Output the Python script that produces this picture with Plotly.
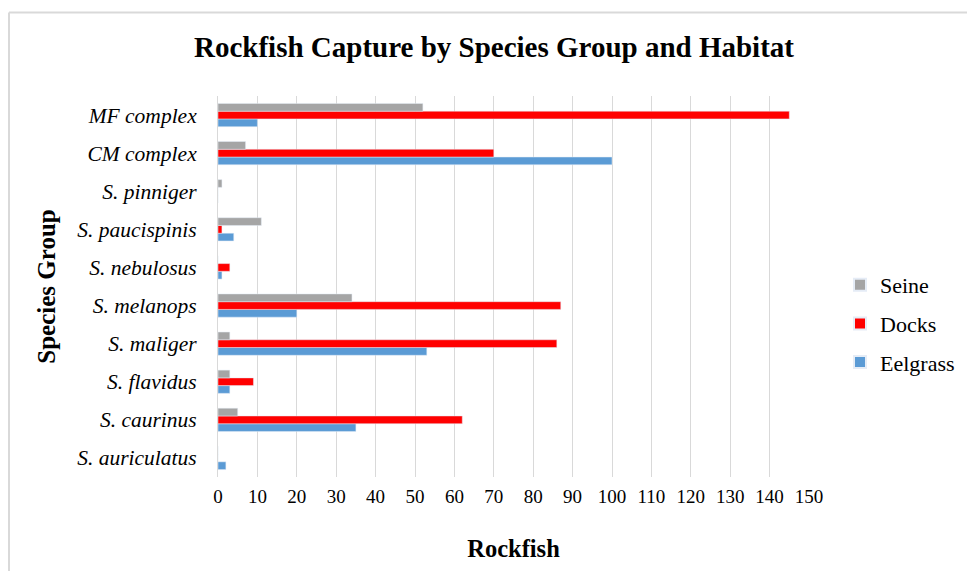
import plotly.graph_objects as go

# Species groups, listed bottom to top as drawn on the category axis
species = [
    "S. auriculatus", "S. caurinus", "S. flavidus", "S. maliger", "S. melanops",
    "S. nebulosus", "S. paucispinis", "S. pinniger", "CM complex", "MF complex",
]

# Rockfish counts per habitat, in the same order as `species`
seine = [0, 5, 3, 3, 34, 0, 11, 1, 7, 52]
docks = [0, 62, 9, 86, 87, 3, 1, 0, 70, 145]
eelgrass = [2, 35, 3, 53, 20, 1, 4, 0, 100, 10]

x_ticks = list(range(0, 151, 10))

SERIF = "Liberation Serif, Times New Roman, serif"

fig = go.Figure()
# Plotly stacks grouped horizontal bars bottom-up, so Eelgrass goes first;
# legendrank puts Seine at the top of the legend
fig.add_trace(go.Bar(name="Eelgrass", y=species, x=eelgrass, orientation="h",
                     legendgroup="eelgrass", legendrank=3,
                     marker=dict(color="#5B9BD5")))
fig.add_trace(go.Bar(name="Docks", y=species, x=docks, orientation="h",
                     legendgroup="docks", legendrank=2,
                     marker=dict(color="#FF0000")))
fig.add_trace(go.Bar(name="Seine", y=species, x=seine, orientation="h",
                     legendgroup="seine", legendrank=1,
                     marker=dict(color="#A5A5A5")))

W, H = 967, 571
L, R, T, B = 218, 158, 96, 94
pw, ph = W - L - R, H - T - B

def px_x(p):
    return (p - L) / pw

def px_y(p):
    return (H - B - p) / ph

fig.update_layout(
    width=W, height=H,
    margin=dict(l=L, r=R, t=T, b=B, autoexpand=False),
    paper_bgcolor="white", plot_bgcolor="white",
    barmode="group", bargap=0.39, bargroupgap=0,
    font=dict(family=SERIF, color="#000000"),
    title=dict(text="<b>Rockfish Capture by Species Group and Habitat</b>",
               font=dict(size=29, family=SERIF, color="#000000"),
               x=494 / W, xref="container", xanchor="center",
               y=1 - 47 / H, yref="container", yanchor="middle"),
    xaxis=dict(range=[0, 150], tickvals=x_ticks, ticktext=[str(v) for v in x_ticks],
               showgrid=True, gridcolor="#D9D9D9", gridwidth=1,
               zeroline=False, showline=False, ticks="",
               tickfont=dict(size=19, family=SERIF, color="#000000"),
               ticklabelstandoff=6,
               title=dict(text="<b>Rockfish</b>", standoff=33,
                          font=dict(size=24.5, family=SERIF, color="#000000"))),
    yaxis=dict(showgrid=False, zeroline=False, ticks="",
               showline=True, linecolor="#D9D9D9", linewidth=1,
               tickfont=dict(size=21.5, family=SERIF, color="#000000", style="italic"),
               ticklabelstandoff=16,
               title=dict(text="<b>Species Group</b>", standoff=14,
                          font=dict(size=25, family=SERIF, color="#000000"))),
    legend=dict(traceorder="grouped", x=px_x(840), y=px_y(264),
                xanchor="left", yanchor="top", tracegroupgap=7,
                itemsizing="constant", itemwidth=30,
                font=dict(size=22, family=SERIF, color="#000000"),
                bgcolor="rgba(0,0,0,0)"),
    shapes=[
        dict(type="line", xref="paper", yref="paper",
             x0=px_x(9), x1=px_x(W + 5), y0=px_y(12.5), y1=px_y(12.5),
             line=dict(color="#D9D9D9", width=2)),
        dict(type="line", xref="paper", yref="paper",
             x0=px_x(9), x1=px_x(9), y0=px_y(12.5), y1=px_y(H + 5),
             line=dict(color="#D9D9D9", width=2)),
    ],
)

fig.write_html("out.html")
